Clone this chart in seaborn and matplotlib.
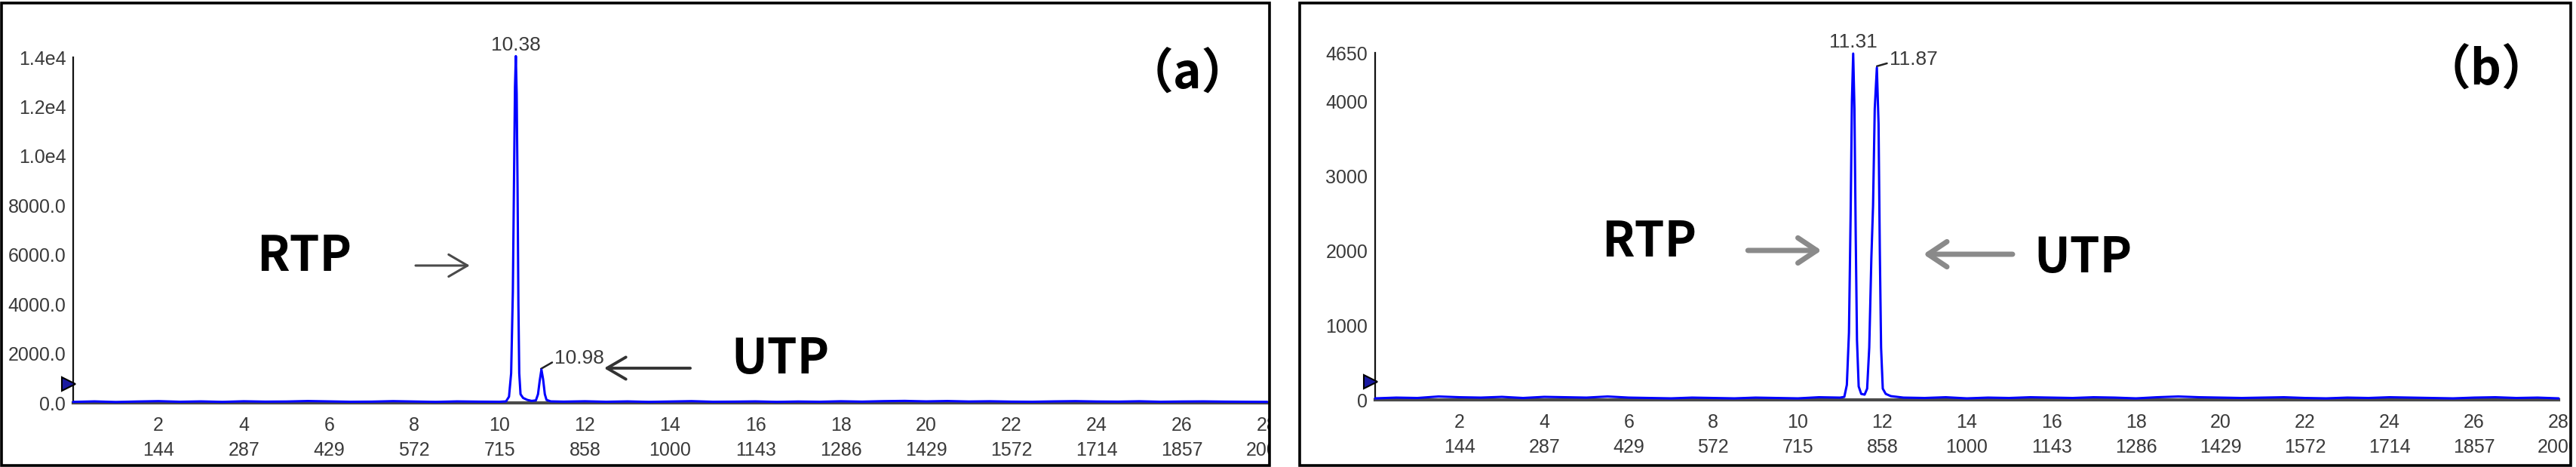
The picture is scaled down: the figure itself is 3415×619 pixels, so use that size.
import matplotlib
matplotlib.use("Agg")
import matplotlib.pyplot as plt
import seaborn as sns
from matplotlib.patches import Rectangle
from matplotlib.transforms import Bbox, TransformedBbox

# ---------------- data ----------------
time_a = [0.0, 0.5, 1.0, 1.5, 2.0, 2.5, 3.0, 3.5, 4.0, 4.5, 5.0, 5.5, 6.0, 6.5, 7.0, 7.5, 8.0, 8.5, 9.0, 9.5, 10.0,
          10.15, 10.22, 10.27, 10.31, 10.34, 10.36, 10.38, 10.40, 10.42, 10.44, 10.46, 10.49, 10.55, 10.65, 10.75,
          10.85, 10.90, 10.94, 10.98, 11.02, 11.06, 11.10, 11.2,
          11.5, 12.0, 12.5, 13.0, 13.5, 14.0, 14.5, 15.0, 15.5, 16.0, 16.5, 17.0, 17.5, 18.0, 18.5, 19.0, 19.5,
          20.0, 20.5, 21.0, 21.5, 22.0, 22.5, 23.0, 23.5, 24.0, 24.5, 25.0, 25.5, 26.0, 26.5, 27.0, 27.5, 28.0]
signal_a = [40, 60, 35, 55, 70, 45, 60, 40, 65, 50, 55, 75, 60, 45, 50, 70, 55, 40, 60, 50, 45,
            60, 250, 1200, 4500, 9500, 12800, 14050, 12500, 8800, 4000, 1200, 350, 200, 120, 80,
            100, 350, 900, 1350, 950, 350, 120, 60,
            50, 65, 45, 60, 40, 55, 70, 45, 50, 60, 40, 55, 45, 65, 50, 70, 80, 60, 75, 55,
            65, 50, 45, 60, 70, 55, 50, 65, 45, 55, 60, 50, 45, 40]

time_b = [0.0, 0.5, 1.0, 1.5, 2.0, 2.5, 3.0, 3.5, 4.0, 4.5, 5.0, 5.5, 6.0, 6.5, 7.0, 7.5, 8.0, 8.5, 9.0, 9.5,
          10.0, 10.5, 11.0,
          11.10, 11.16, 11.21, 11.25, 11.28, 11.31, 11.34, 11.37, 11.40, 11.44, 11.50, 11.58, 11.64, 11.69,
          11.74, 11.78, 11.82, 11.87, 11.91, 11.94, 11.97, 12.01, 12.08, 12.2,
          12.5, 13.0, 13.5, 14.0, 14.5, 15.0, 15.5, 16.0, 16.5, 17.0, 17.5, 18.0, 18.5, 19.0, 19.5, 20.0,
          20.5, 21.0, 21.5, 22.0, 22.5, 23.0, 23.5, 24.0, 24.5, 25.0, 25.5, 26.0, 26.5, 27.0, 27.5, 28.0]
signal_b = [20, 30, 25, 45, 35, 30, 40, 25, 40, 35, 30, 45, 30, 25, 20, 30, 25, 20, 30, 25, 20, 35, 30,
            40, 200, 900, 2500, 4000, 4640, 3900, 2200, 800, 180, 80, 70, 150, 700,
            1900, 2600, 3900, 4450, 3700, 2000, 700, 150, 80, 50,
            30, 25, 35, 20, 30, 25, 35, 30, 25, 35, 30, 20, 35, 45, 35, 30,
            25, 30, 35, 25, 20, 30, 25, 35, 30, 25, 20, 30, 35, 25, 30, 20]

minutes = [2, 4, 6, 8, 10, 12, 14, 16, 18, 20, 22, 24, 26, 28]
scans = [144, 287, 429, 572, 715, 858, 1000, 1143, 1286, 1429, 1572, 1714, 1857, 2000]
yticks_a = [0, 2000, 4000, 6000, 8000, 10000, 12000, 14000]
ylabels_a = ["0.0", "2000.0", "4000.0", "6000.0", "8000.0", "1.0e4", "1.2e4", "1.4e4"]
yticks_b = [0, 1000, 2000, 3000, 4000, 4650]
ylabels_b = ["0", "1000", "2000", "3000", "4000", "4650"]
peaks_a = [10.38, 10.98]
peak_h_a = [14050, 1350]
peaks_b = [11.31, 11.87]
peak_h_b = [4640, 4450]

# ---------------- style ----------------
sns.set_theme(style="white")
plt.rcParams["font.family"] = ["Liberation Sans Narrow", "Liberation Sans", "DejaVu Sans"]
TICKFONT = ["Liberation Sans Narrow", "Liberation Sans", "DejaVu Sans"]
BOLDFONT = ["Noto Sans CJK SC", "DejaVu Sans"]
FS = 18

W, H = 3416, 619
fig = plt.figure(figsize=(W / 100, H / 100), dpi=100)
fig.patch.set_facecolor("white")

# outer frames
frame_a = (2 / W, 2 / H, (1683 - 2) / W, (616 - 3) / H)
frame_b = (1723 / W, 2 / H, (3408 - 1723) / W, (616 - 3) / H)
for fr in (frame_a, frame_b):
    fig.add_artist(Rectangle((fr[0], fr[1]), fr[2], fr[3], transform=fig.transFigure,
                             fill=False, lw=2.6, ec="black"))

ax_a = fig.add_axes([97 / W, (H - 534) / H, (1680 - 97) / W, (534 - 76) / H])
ax_b = fig.add_axes([1823 / W, (H - 530) / H, (3392 - 1823) / W, (530 - 70) / H])


def style_axes(ax, tx, sy, yticks, ylabels, ymax, yminor, frame):
    ax.set_facecolor("none")
    sns.lineplot(x=tx, y=sy, ax=ax, color="#0000ff", lw=2.2, clip_on=False, zorder=5)
    ax.set_xlim(0, 28)
    ax.set_ylim(0, ymax)
    ax.set_xlabel("")
    ax.set_ylabel("")
    for s in ("top", "right"):
        ax.spines[s].set_visible(False)
    ax.spines["left"].set_color("#111111")
    ax.spines["left"].set_linewidth(1.6)
    ax.spines["bottom"].set_color("#4a4a4a")
    ax.spines["bottom"].set_linewidth(3.0)
    ax.set_xticks(minutes)
    ax.set_xticklabels([f"{m}\n{s}" for m, s in zip(minutes, scans)], linespacing=1.45)
    ax.set_xticks([m - 1 for m in minutes], minor=True)
    ax.set_yticks(yticks)
    ax.set_yticklabels(ylabels)
    ax.set_yticks(yminor, minor=True)
    ax.tick_params(axis="both", which="major", direction="out", length=4, width=1.6,
                   color="#222222", labelsize=FS, labelcolor="#3a3a3a", pad=3)
    ax.tick_params(axis="x", which="major", pad=9)
    ax.tick_params(axis="both", which="minor", direction="out", length=3, width=1.3, color="#222222")
    for lbl in ax.get_xticklabels() + ax.get_yticklabels():
        lbl.set_fontfamily(TICKFONT)
    clip = TransformedBbox(Bbox([[frame[0], frame[1]], [frame[0] + frame[2], frame[1] + frame[3]]]),
                           fig.transFigure)
    for lbl in ax.get_xticklabels():
        lbl.set_clip_box(clip)
        lbl.set_clip_on(True)
    ax.grid(False)


style_axes(ax_a, time_a, signal_a, yticks_a, ylabels_a, 14000,
           [1000, 3000, 5000, 7000, 9000, 11000, 13000], frame_a)
style_axes(ax_b, time_b, signal_b, yticks_b, ylabels_b, 4650,
           [500, 1500, 2500, 3500, 4500], frame_b)

# injection markers on the y axis
ax_a.plot([-0.1], [765], marker=">", ms=13, mfc="#1a1aa0", mec="black", mew=1.5,
          clip_on=False, zorder=6)
ax_b.plot([-0.1], [243], marker=">", ms=13, mfc="#1a1aa0", mec="black", mew=1.5,
          clip_on=False, zorder=6)

# peak labels
pk_kw = dict(fontsize=19, color="#3a3a3a", family=TICKFONT, annotation_clip=False)
ax_a.annotate(f"{peaks_a[0]:.2f}", xy=(peaks_a[0], peak_h_a[0]), xytext=(0, 5),
              textcoords="offset points", ha="center", va="baseline", **pk_kw)
ax_a.annotate(f"{peaks_a[1]:.2f}", xy=(peaks_a[1] - 0.01, peak_h_a[1] + 30), xytext=(13, 5),
              textcoords="offset points", ha="left", va="baseline", **pk_kw,
              arrowprops=dict(arrowstyle="-", color="#222222", lw=1.8, shrinkA=0, shrinkB=0,
                              relpos=(0, 0.35)))
ax_b.annotate(f"{peaks_b[0]:.2f}", xy=(peaks_b[0], peak_h_b[0]), xytext=(0, 6),
              textcoords="offset points", ha="center", va="baseline", **pk_kw)
ax_b.annotate(f"{peaks_b[1]:.2f}", xy=(peaks_b[1], peak_h_b[1] + 20), xytext=(12, 1),
              textcoords="offset points", ha="left", va="baseline", **pk_kw,
              arrowprops=dict(arrowstyle="-", color="#222222", lw=1.8, shrinkA=0, shrinkB=0,
                              relpos=(0, 0.35)))

# compound labels and arrows
big = dict(fontsize=46, fontweight="bold", color="black", family=BOLDFONT, ha="center", va="baseline")
ax_a.text(5.41, 5350, "RTP", **big)
ax_a.text(16.59, 1192, "UTP", **big)
ax_a.text(26.14, 12718, "（a）", **big)
ax_b.text(6.48, 1921, "RTP", **big)
ax_b.text(16.74, 1708, "UTP", **big)
ax_b.text(26.28, 4221, "（b）", **big)

arr_a = dict(arrowstyle="->,head_length=0.6,head_width=0.35", color="#4a4a4a", lw=2.2,
             shrinkA=0, shrinkB=0, mutation_scale=30)
ax_a.annotate("", xy=(9.30, 5564), xytext=(8.03, 5564), arrowprops=arr_a)
ax_a.annotate("", xy=(12.45, 1406), xytext=(14.47, 1406),
              arrowprops=dict(arr_a, color="#333333", lw=2.8))
arr_b = dict(arrowstyle="->,head_length=0.6,head_width=0.4", color="#8a8a8a", lw=5,
             shrinkA=0, shrinkB=0, mutation_scale=30)
ax_b.annotate("", xy=(10.56, 2002), xytext=(8.82, 2002), arrowprops=arr_b)
ax_b.annotate("", xy=(12.97, 1951), xytext=(15.08, 1951), arrowprops=arr_b)

fig.savefig("out.png", dpi=100, facecolor="white")
